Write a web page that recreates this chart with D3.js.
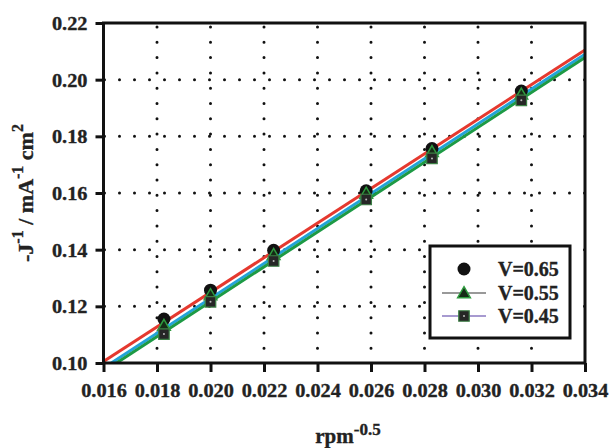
<!DOCTYPE html>
<html>
<head>
<meta charset="utf-8">
<script src="https://cdn.jsdelivr.net/npm/d3@7"></script>
<style>
  body { margin: 0; background: #fff; }
  svg { display: block; font-family: "Liberation Serif", "Times New Roman", serif; font-weight: bold; }
  text { stroke: #222; stroke-width: 0.35px; }
</style>
</head>
<body>
<svg id="chart"></svg>
<script>
// rotation rate values (rpm^-0.5)
var xVals = [0.01826, 0.0200, 0.02236, 0.02582, 0.02828, 0.03162];
// measured -1/J for each potential
var v065 = [0.1155, 0.1257, 0.1398, 0.1608, 0.1757, 0.1960];
var v055 = [0.1132, 0.1240, 0.1382, 0.1598, 0.1745, 0.1948];
var v045 = [0.1102, 0.1216, 0.1360, 0.1577, 0.1722, 0.1927];
// fitted lines, read at the x-axis ends
var fitX = [0.016, 0.034];
var fit065 = [0.1005, 0.2105];
var fit055 = [0.0982, 0.2090];
var fit045 = [0.0970, 0.2078];

var xTicks = [0.016, 0.018, 0.020, 0.022, 0.024, 0.026, 0.028, 0.030, 0.032, 0.034];
var yTicks = [0.10, 0.12, 0.14, 0.16, 0.18, 0.20, 0.22];
var legendLabels = ['V=0.65', 'V=0.55', 'V=0.45'];

var W = 609, H = 448;
var margin = { top: 23, right: 24, bottom: 85, left: 103.5 },
    width = W - margin.left - margin.right,
    height = H - margin.top - margin.bottom;

var svg = d3.select('#chart').attr('width', W).attr('height', H);
var g = svg.append('g').attr('transform', 'translate(' + margin.left + ',' + margin.top + ')');

var x = d3.scaleLinear().domain([0.016, 0.034]).range([0, width]);
var y = d3.scaleLinear().domain([0.10, 0.22]).range([height, 0]);

// dotted grid
g.append('g')
    .selectAll('line')
    .data(xTicks.slice(1, -1))
    .enter()
    .append('line')
    .attr('x1', d => x(d)).attr('x2', d => x(d))
    .attr('y1', 4).attr('y2', height)
    .attr('stroke', '#111')
    .attr('stroke-width', 3)
    .attr('stroke-linecap', 'round')
    .attr('stroke-dasharray', '0,15.3');

g.append('g')
    .selectAll('line')
    .data(yTicks.slice(1, -1))
    .enter()
    .append('line')
    .attr('x1', 1).attr('x2', width)
    .attr('y1', d => y(d)).attr('y2', d => y(d))
    .attr('stroke', '#111')
    .attr('stroke-width', 3)
    .attr('stroke-linecap', 'round')
    .attr('stroke-dasharray', '0,15');

// fitted lines
g.append('clipPath').attr('id', 'clip')
    .append('rect').attr('width', width).attr('height', height);

var line = d3.line()
    .x(function (d) { return x(d[0]); })
    .y(function (d) { return y(d[1]); });

var fits = [
    { v: fit065, color: '#e5392f' },
    { v: fit055, color: '#23a3d8' },
    { v: fit045, color: '#1d9a45' }
];
g.append('g').attr('clip-path', 'url(#clip)')
    .selectAll('path')
    .data(fits)
    .enter()
    .append('path')
    .attr('d', d => line(fitX.map((xv, i) => [xv, d.v[i]])))
    .attr('fill', 'none')
    .attr('stroke', d => d.color)
    .attr('stroke-width', 3);

// markers
var tri = d3.symbol().type(d3.symbolTriangle).size(70);
var sq = d3.symbol().type(d3.symbolSquare).size(110);

function drawCircle(sel, cx, cy) {
    sel.append('circle').attr('cx', cx).attr('cy', cy).attr('r', 6.5).style('fill', '#111');
}
function drawTri(sel, cx, cy) {
    sel.append('path').attr('d', tri)
        .attr('transform', 'translate(' + cx + ',' + (cy + 1) + ')')
        .style('fill', '#162a16').style('stroke', '#2e9a3e').style('stroke-width', 1.5);
}
function drawSq(sel, cx, cy) {
    sel.append('path').attr('d', sq)
        .attr('transform', 'translate(' + cx + ',' + cy + ')')
        .style('fill', '#262626').style('stroke', '#3c7f45').style('stroke-width', 1.2);
    sel.append('circle').attr('cx', cx).attr('cy', cy).attr('r', 1).style('fill', '#bbb');
}

var pts = g.append('g');
xVals.forEach((xv, i) => drawCircle(pts, x(xv), y(v065[i])));
xVals.forEach((xv, i) => drawTri(pts, x(xv), y(v055[i])));
xVals.forEach((xv, i) => drawSq(pts, x(xv), y(v045[i])));

// axes
var xAxis = g.append('g')
    .attr('transform', 'translate(0,' + height + ')')
    .call(d3.axisBottom(x).tickValues(xTicks).tickFormat(d3.format('.3f')).tickSize(9).tickSizeOuter(0));
var yAxis = g.append('g')
    .call(d3.axisLeft(y).tickValues(yTicks).tickFormat(d3.format('.2f')).tickSize(8).tickSizeOuter(0));

[xAxis, yAxis].forEach(function (a) {
    a.attr('font-family', 'Liberation Serif').attr('font-size', 19).attr('font-weight', 'bold');
    a.select('.domain').remove();
    a.selectAll('line').attr('stroke', '#111').attr('stroke-width', 3);
    a.selectAll('text').attr('fill', '#222');
});
// labels in the picture are a bit wider than the font
xAxis.selectAll('text').attr('y', 0).attr('dy', 0)
    .attr('transform', 'translate(0,34) scale(1.07,1)');
yAxis.selectAll('text').attr('x', 0).attr('dy', 0)
    .attr('text-anchor', 'end')
    .attr('transform', 'translate(-16,6.5) scale(1.07,1)');

// frame
g.append('rect')
    .attr('width', width).attr('height', height)
    .style('fill', 'none').style('stroke', '#111').style('stroke-width', 3);

// axis titles
var xt = svg.append('text')
    .attr('x', 348).attr('y', 443)
    .attr('text-anchor', 'middle')
    .attr('fill', '#222')
    .style('font-size', '21px');
xt.append('tspan').text('rpm');
xt.append('tspan').attr('dy', -8).style('font-size', '17px').text('-0.5');

var yt = svg.append('text')
    .attr('transform', 'translate(33,193) rotate(-90)')
    .attr('text-anchor', 'middle')
    .attr('fill', '#222')
    .style('font-size', '22px');
yt.append('tspan').text('-J');
yt.append('tspan').attr('dy', -10).style('font-size', '16px').text('-1');
yt.append('tspan').attr('dy', 10).text(' / mA');
yt.append('tspan').attr('dy', -10).style('font-size', '16px').text('-1');
yt.append('tspan').attr('dy', 10).text(' cm');
yt.append('tspan').attr('dy', -10).style('font-size', '16px').text('2');

// legend
var lg = svg.append('g').attr('transform', 'translate(430,246)');
lg.append('rect')
    .attr('width', 140).attr('height', 92)
    .style('fill', '#fff').style('stroke', '#111').style('stroke-width', 3);

var ly = [23, 47, 70];
var mx = 34;
drawCircle(lg, mx, ly[0]);
lg.append('line').attr('x1', 12).attr('x2', 56).attr('y1', ly[1]).attr('y2', ly[1])
    .attr('stroke', '#777').attr('stroke-width', 1.5);
drawTri(lg, mx, ly[1]);
lg.append('line').attr('x1', 12).attr('x2', 56).attr('y1', ly[2]).attr('y2', ly[2])
    .attr('stroke', '#8a78c0').attr('stroke-width', 1.5);
drawSq(lg, mx, ly[2]);

lg.selectAll('.lbl')
    .data(legendLabels)
    .enter()
    .append('text')
    .attr('class', 'lbl')
    .attr('x', 68)
    .attr('y', (d, i) => ly[i])
    .attr('dy', '0.35em')
    .attr('fill', '#222')
    .style('font-size', '20px')
    .text(d => d);
</script>
</body>
</html>
